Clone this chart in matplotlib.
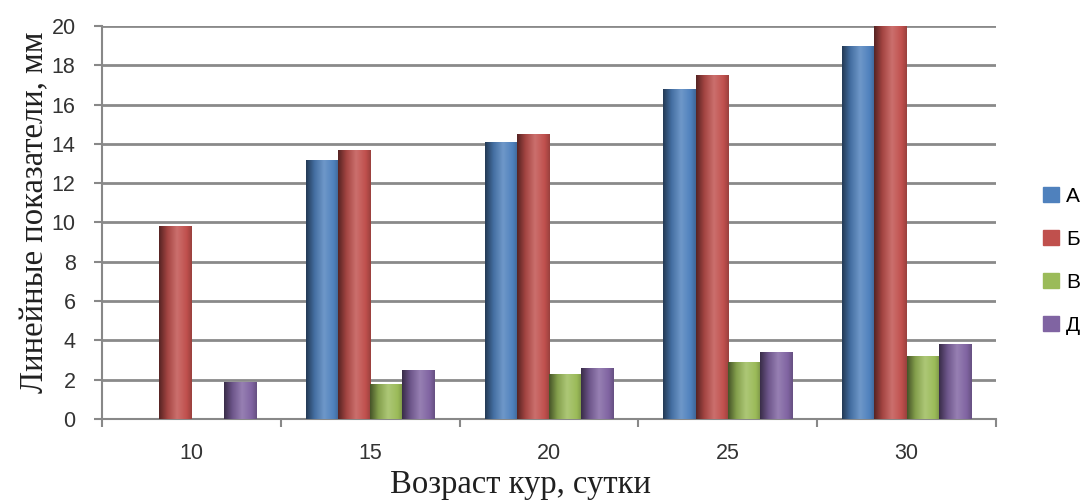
import numpy as np
import matplotlib.pyplot as plt
from matplotlib.colors import to_rgb, LinearSegmentedColormap
from matplotlib.patches import Patch

# measurements by age (days)
ages = [10, 15, 20, 25, 30]
series_names = ["А", "Б", "В", "Д"]
vals_a = [0.0, 13.2, 14.1, 16.8, 19.0]
vals_b = [9.8, 13.7, 14.5, 17.5, 20.0]
vals_v = [0.0, 1.8, 2.3, 2.9, 3.2]
vals_d = [1.9, 2.5, 2.6, 3.4, 3.8]
colors = ["#4F81BD", "#C0504D", "#9BBB59", "#8064A2"]

fig = plt.figure(figsize=(10.87, 5.04), dpi=100)
ax = fig.add_axes([0.0938, 0.1687, 0.8225, 0.7797])

x = np.arange(len(ages))
width = 0.18
grad = np.linspace(0, 1, 64).reshape(1, -1)


def shaded_cmap(c):
    # dark edge on the left, highlight just right of centre, soft right edge
    r = np.array(to_rgb(c))
    dark = r * 0.45
    light = np.clip(r + (1 - r) * 0.18, 0, 1)
    return LinearSegmentedColormap.from_list(
        "s", [(0, dark), (0.25, r * 0.85), (0.55, light), (0.85, r), (1, r * 0.8)])


for i, vals in enumerate([vals_a, vals_b, vals_v, vals_d]):
    cm = shaded_cmap(colors[i])
    bars = ax.bar(x + (i - 1.5) * width, vals, width, color=colors[i],
                  linewidth=0, zorder=2)
    for b in bars:
        if b.get_height() <= 0:
            continue
        x0, w, h = b.get_x(), b.get_width(), b.get_height()
        im = ax.imshow(grad, cmap=cm, aspect="auto", extent=(x0, x0 + w, 0, h),
                       zorder=3, interpolation="bicubic")
        im.set_clip_path(b)

ax.set_xlim(-0.5, len(ages) - 0.5)
ax.set_ylim(0, 20)
ax.set_yticks(np.arange(0, 21, 2))
ax.set_xticks(x)
ax.set_xticklabels([str(a) for a in ages])
ax.set_xticks(np.arange(-0.5, len(ages), 1), minor=True)
ax.tick_params(axis="x", which="major", length=0, pad=17, labelsize=15.5,
               colors="#333333")
ax.tick_params(axis="x", which="minor", length=6, width=1.5, color="#888888",
               direction="out")
ax.tick_params(axis="y", length=6, width=1.5, color="#888888", labelsize=15.5,
               labelcolor="#333333", pad=13)
for lab in ax.get_xticklabels() + ax.get_yticklabels():
    lab.set_family("Liberation Sans")

ax.grid(axis="y", color="#8a8a8a", linewidth=2, zorder=0)
ax.set_axisbelow(True)
for s in ["top", "right"]:
    ax.spines[s].set_visible(False)
for s in ["left", "bottom"]:
    ax.spines[s].set_color("#888888")
    ax.spines[s].set_linewidth(1.5)

ax.set_ylabel("Линейные показатели, мм", family="Liberation Serif",
              fontsize=23.5, color="#202020")
ax.set_xlabel("Возраст кур, сутки", family="Liberation Serif", fontsize=23.5,
              color="#202020")
ax.yaxis.set_label_coords(-0.058, 0.527)
ax.xaxis.set_label_coords(0.4676, -0.128)

handles = [Patch(color=c, label=n) for c, n in zip(colors, series_names)]
fig.legend(handles=handles, loc="center left", bbox_to_anchor=(0.9595, 0.483),
           frameon=False, handlelength=0.75, handleheight=0.75, handletextpad=0.35,
           labelspacing=1.15, borderpad=0, borderaxespad=0,
           prop={"family": "Liberation Sans", "size": 15})

fig.savefig("out.png", dpi=100)
